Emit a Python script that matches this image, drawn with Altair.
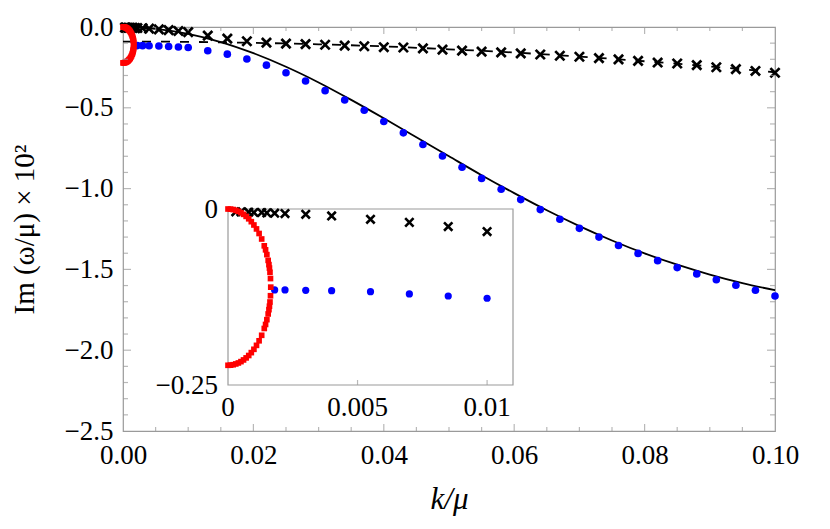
import altair as alt
import pandas as pd

# ---------------- data ----------------
X_DOMAIN = [0.0, 0.10]
Y_DOMAIN = [-2.5, 0.0]
INSET_X_DOMAIN = [0.0, 0.011]
INSET_Y_DOMAIN = [-0.25, 0.0]

# solid black curve
line_k = [0.0, 0.005, 0.01, 0.015, 0.02, 0.025, 0.03, 0.035, 0.04, 0.045, 0.05,
          0.055, 0.06, 0.065, 0.07, 0.075, 0.08, 0.085, 0.09, 0.095, 0.10]
line_im = [0.0, -0.011, -0.042, -0.093, -0.162, -0.246, -0.343, -0.451, -0.565, -0.682, -0.800,
           -0.917, -1.028, -1.134, -1.232, -1.321, -1.401, -1.471, -1.532, -1.585, -1.629]

# dashed black curve
dash_k = [0.0, 0.01, 0.02, 0.03, 0.04, 0.05, 0.06, 0.07, 0.08, 0.09, 0.10]
dash_im = [-0.090, -0.092, -0.098, -0.107, -0.120, -0.138, -0.158, -0.183, -0.212, -0.244, -0.280]

# black crosses
cross_k = [0.0003, 0.0005, 0.0008, 0.001, 0.0013, 0.0015, 0.0018, 0.0022, 0.003, 0.004,
           0.0055, 0.007, 0.0085, 0.01, 0.013, 0.016, 0.019, 0.022, 0.025, 0.028,
           0.031, 0.034, 0.037, 0.040, 0.043, 0.046, 0.049, 0.052, 0.055, 0.058,
           0.061, 0.064, 0.067, 0.070, 0.073, 0.076, 0.079, 0.082, 0.085, 0.088,
           0.091, 0.094, 0.097, 0.100]
cross_im = [-0.004, -0.004, -0.0045, -0.005, -0.005, -0.0055, -0.006, -0.0065, -0.0075, -0.0099,
            -0.0146, -0.019, -0.025, -0.032, -0.053, -0.072, -0.088, -0.097, -0.103, -0.106,
            -0.110, -0.115, -0.119, -0.125, -0.127, -0.132, -0.140, -0.146, -0.152, -0.157,
            -0.163, -0.170, -0.178, -0.184, -0.193, -0.200, -0.210, -0.220, -0.226, -0.236,
            -0.249, -0.261, -0.272, -0.283]

# blue dots
blue_k = [0.0018, 0.0022, 0.003, 0.004, 0.0055, 0.007, 0.0085, 0.01, 0.013, 0.016,
          0.019, 0.022, 0.025, 0.028, 0.031, 0.034, 0.037, 0.040, 0.043, 0.046,
          0.049, 0.052, 0.055, 0.058, 0.061, 0.064, 0.067, 0.070, 0.073, 0.076,
          0.079, 0.082, 0.085, 0.088, 0.091, 0.094, 0.097, 0.100]
blue_im = [-0.115, -0.115, -0.1155, -0.116, -0.1175, -0.1207, -0.1236, -0.1268, -0.147, -0.168,
           -0.198, -0.236, -0.283, -0.334, -0.394, -0.452, -0.515, -0.585, -0.655, -0.727,
           -0.798, -0.868, -0.937, -1.004, -1.068, -1.130, -1.190, -1.246, -1.300, -1.352,
           -1.401, -1.446, -1.489, -1.528, -1.564, -1.598, -1.629, -1.665]

# red squares (two branches meeting near k = 0.00165)
red_k = [0.0, 0.0001, 0.0002, 0.0003, 0.0004, 0.0005, 0.0006, 0.0007, 0.0008, 0.0009, 0.001,
         0.0011, 0.0012, 0.0013, 0.0014, 0.00145, 0.0015, 0.00155, 0.00158, 0.0016, 0.00162, 0.00164,
         0.00165,
         0.00164, 0.00162, 0.0016, 0.00158, 0.00155, 0.0015, 0.00145, 0.0014, 0.0013, 0.0012, 0.0011,
         0.001, 0.0009, 0.0008, 0.0007, 0.0006, 0.0005, 0.0004, 0.0003, 0.0002, 0.0001, 0.0]
red_im = [0.0, -0.0002, -0.0008, -0.0019, -0.0033, -0.0052, -0.0076, -0.0105, -0.0139, -0.0180, -0.0227,
          -0.0283, -0.0348, -0.0426, -0.0523, -0.0580, -0.0648, -0.0730, -0.0790, -0.0839, -0.0899, -0.0988,
          -0.111,
          -0.1232, -0.1321, -0.1381, -0.1430, -0.1491, -0.1572, -0.1640, -0.1697, -0.1794, -0.1872, -0.1937,
          -0.1993, -0.2040, -0.2081, -0.2115, -0.2144, -0.2168, -0.2187, -0.2201, -0.2212, -0.2218, -0.222]

# axis ticks / labels
x_label_values = [0.0, 0.02, 0.04, 0.06, 0.08, 0.10]
y_label_values = [0.0, -0.5, -1.0, -1.5, -2.0, -2.5]
x_major_ticks = [0.02, 0.04, 0.06, 0.08]
x_minor_ticks = [0.005, 0.01, 0.015, 0.025, 0.03, 0.035, 0.045, 0.05, 0.055,
                 0.065, 0.07, 0.075, 0.085, 0.09, 0.095]
y_major_ticks = [-0.5, -1.0, -1.5, -2.0]
y_minor_ticks = [-0.1, -0.2, -0.3, -0.4, -0.6, -0.7, -0.8, -0.9, -1.1, -1.2, -1.3, -1.4,
                 -1.6, -1.7, -1.8, -1.9, -2.1, -2.2, -2.3, -2.4]
inset_x_ticks = [0.0, 0.005, 0.01]
inset_x_labels = ["0", "0.005", "0.01"]
inset_y_ticks = [0.0, -0.25]
inset_y_labels = ["0", "\u22120.25"]

# ---------------- styling / layout ----------------
FONT = "Liberation Serif"
GRAY = "#9a9a9a"
W, H = 652, 404
INSET_X_RANGE = [105, 390]
INSET_Y_RANGE = [358, 182]
CROSS = "M-1,-1L1,1M-1,1L1,-1"

line_df = pd.DataFrame({"k": line_k, "im": line_im})
dash_df = pd.DataFrame({"k": dash_k, "im": dash_im})
cross_df = pd.DataFrame({"k": cross_k, "im": cross_im})
blue_df = pd.DataFrame({"k": blue_k, "im": blue_im})
red_df = pd.DataFrame({"k": red_k, "im": red_im})

xs = alt.Scale(domain=X_DOMAIN, nice=False, zero=False)
ys = alt.Scale(domain=Y_DOMAIN, nice=False, zero=False)

x_axis = alt.Axis(values=x_label_values, format=".2f", title="k/\u03bc",
                  labelFont=FONT, labelFontSize=27, labelPadding=11, labelFlush=False,
                  labelColor="black", ticks=False, domain=False, grid=False,
                  titleFont=FONT, titleFontSize=31, titleFontStyle="italic",
                  titleFontWeight="normal", titleColor="black", titlePadding=16)
y_axis = alt.Axis(values=y_label_values, format=".1f", title="Im (\u03c9/\u03bc) \u00d7 10\u00b2",
                  labelFont=FONT, labelFontSize=27, labelPadding=10, labelFlush=False,
                  labelColor="black", ticks=False, domain=False, grid=False,
                  titleFont=FONT, titleFontSize=29, titleFontWeight="normal",
                  titleColor="black", titlePadding=25)

X = alt.X("k:Q", scale=xs, axis=x_axis)
Y = alt.Y("im:Q", scale=ys, axis=y_axis)


def xdatum(v):
    return alt.XDatum(datum=v, type="quantitative", scale=xs, axis=x_axis)


def ydatum(v):
    return alt.YDatum(datum=v, type="quantitative", scale=ys, axis=y_axis)


solid = alt.Chart(line_df).mark_line(color="black", strokeWidth=1.8,
                                     interpolate="monotone").encode(x=X, y=Y)
dashed = alt.Chart(dash_df).mark_line(color="black", strokeWidth=1.8, strokeDash=[9, 10],
                                      interpolate="monotone").encode(x=X, y=Y)
crosses = alt.Chart(cross_df).mark_point(shape=CROSS, filled=False, color="black",
                                         strokeWidth=2.7, size=85, opacity=1).encode(x=X, y=Y)
blues = alt.Chart(blue_df).mark_circle(color="#0000ff", size=58, opacity=1).encode(x=X, y=Y)
reds = alt.Chart(red_df).mark_square(color="#ff0000", size=32, opacity=1).encode(x=X, y=Y)


def xticks(values, size, at, sign):
    df = pd.DataFrame({"k": values})
    return alt.Chart(df).mark_tick(orient="vertical", size=size, thickness=1.2, color=GRAY,
                                   yOffset=sign * size / 2).encode(x=X, y=ydatum(at))


def yticks(values, size, at, sign):
    df = pd.DataFrame({"im": values})
    return alt.Chart(df).mark_tick(orient="horizontal", size=size, thickness=1.2, color=GRAY,
                                   xOffset=sign * size / 2).encode(y=Y, x=xdatum(at))


tick_layers = [
    xticks(x_minor_ticks, 4, Y_DOMAIN[0], -1), xticks(x_major_ticks, 7, Y_DOMAIN[0], -1),
    xticks(x_minor_ticks, 4, Y_DOMAIN[1], 1), xticks(x_major_ticks, 7, Y_DOMAIN[1], 1),
    yticks(y_minor_ticks, 5, X_DOMAIN[0], 1), yticks(y_major_ticks, 8, X_DOMAIN[0], 1),
    yticks(y_minor_ticks, 5, X_DOMAIN[1], -1), yticks(y_major_ticks, 8, X_DOMAIN[1], -1),
]

main = alt.layer(solid, dashed, crosses, blues, reds, *tick_layers)

# ---------------- inset ----------------
ixs = alt.Scale(domain=INSET_X_DOMAIN, range=INSET_X_RANGE, nice=False, zero=False)
iys = alt.Scale(domain=INSET_Y_DOMAIN, range=INSET_Y_RANGE, nice=False, zero=False)
IX = alt.X("k:Q", scale=ixs, axis=None)
IY = alt.Y("im:Q", scale=iys, axis=None)


def ixdatum(v):
    return alt.XDatum(datum=v, type="quantitative", scale=ixs, axis=None)


def iydatum(v):
    return alt.YDatum(datum=v, type="quantitative", scale=iys, axis=None)


frame_df = pd.DataFrame({"k": [INSET_X_DOMAIN[0]], "k2": [INSET_X_DOMAIN[1]],
                         "im": [INSET_Y_DOMAIN[0]], "im2": [INSET_Y_DOMAIN[1]]})
inset_frame = alt.Chart(frame_df).mark_rect(fill="white", stroke=GRAY, strokeWidth=1.2).encode(
    x=IX, x2="k2:Q", y=IY, y2="im2:Q")

keep = alt.datum.k <= INSET_X_DOMAIN[1]
i_cross = alt.Chart(cross_df).transform_filter(keep).mark_point(
    shape=CROSS, filled=False, color="black", strokeWidth=2.6, size=70, opacity=1).encode(x=IX, y=IY)
i_blue = alt.Chart(blue_df).transform_filter(keep).mark_circle(
    color="#0000ff", size=52, opacity=1).encode(x=IX, y=IY)
i_red = alt.Chart(red_df).transform_filter(keep).mark_square(
    color="#ff0000", size=32, opacity=1).encode(x=IX, y=IY)

ix_ticks = alt.Chart(pd.DataFrame({"k": inset_x_ticks[1:]})).mark_tick(
    orient="vertical", size=5, thickness=1.2, color=GRAY, yOffset=-2.5).encode(
    x=IX, y=iydatum(INSET_Y_DOMAIN[0]))
ix_labels = alt.Chart(pd.DataFrame({"k": inset_x_ticks, "label": inset_x_labels})).mark_text(
    font=FONT, fontSize=27, baseline="top", align="center", dy=10, color="black").encode(
    x=IX, y=iydatum(INSET_Y_DOMAIN[0]), text="label:N")
iy_labels = alt.Chart(pd.DataFrame({"im": inset_y_ticks, "label": inset_y_labels})).mark_text(
    font=FONT, fontSize=27, baseline="middle", align="right", dx=-10, dy=1, color="black").encode(
    y=IY, x=ixdatum(INSET_X_DOMAIN[0]), text="label:N")

inset = alt.layer(inset_frame, i_cross, i_blue, i_red, ix_ticks, ix_labels, iy_labels)

chart = alt.layer(main, inset).resolve_scale(
    x="independent", y="independent"
).properties(
    width=W, height=H, autosize="none",
    padding={"left": 115, "top": 19, "right": 40, "bottom": 85},
    background="white",
).configure_view(stroke=GRAY, strokeWidth=1.2)

chart.save("out.html", embed_options={"renderer": "svg", "actions": False})
